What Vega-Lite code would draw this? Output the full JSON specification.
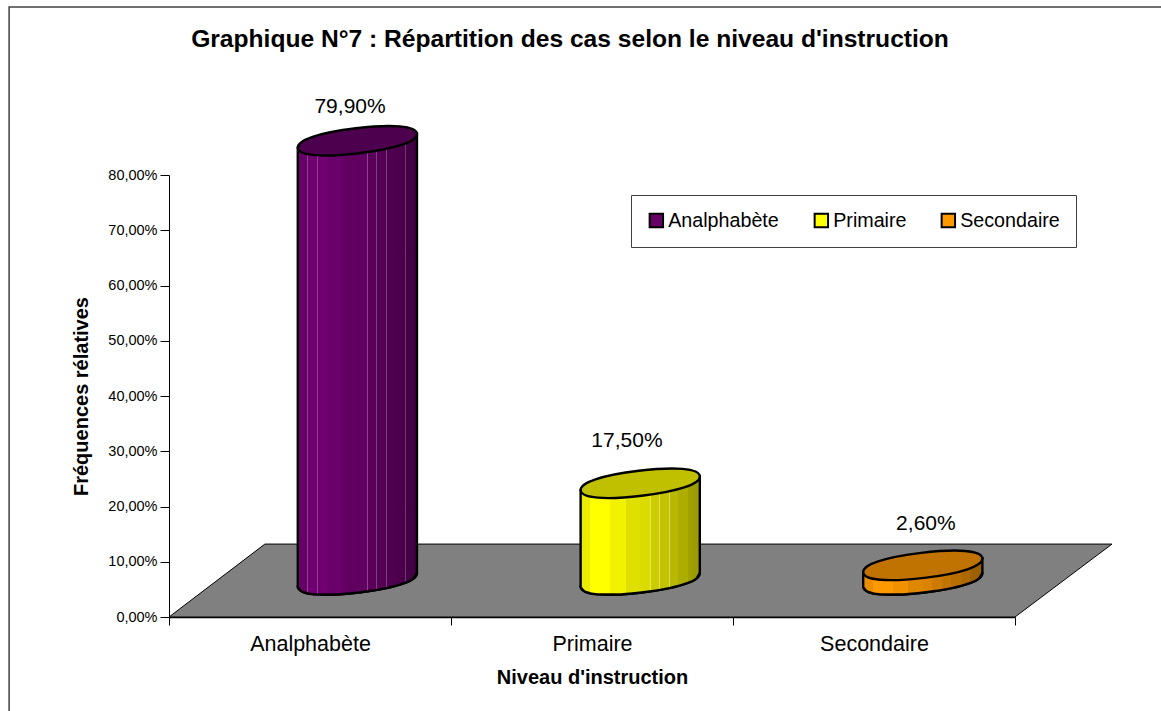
{"$schema":"https://vega.github.io/schema/vega-lite/v6.json","width":846,"height":442,"autosize":{"type":"none"},"padding":{"left":169,"top":175,"right":146,"bottom":94},"background":"white","title":{"text":"Graphique N°7 : Répartition des cas selon le niveau d'instruction","anchor":"middle","frame":"group","dx":-22,"offset":0,"dy":46,"fontSize":24.6,"fontWeight":"bold","font":"Liberation Sans","color":"black"},"config":{"font":"Liberation Sans","view":{"stroke":null},"axis":{"domainColor":"black","tickColor":"black","labelColor":"black","titleColor":"black","grid":false}},"datasets":{"cadre":[{"x":-0.567,"x2":3.7,"y":-20,"y2":110.4}],"sol":[{"x":0,"y":0,"y2":0},{"x":0.34,"y":0,"y2":13.2},{"x":3,"y":0,"y2":13.2},{"x":3.344,"y":13.2,"y2":13.2}],"bases":[{"niveau":"Analphabète","x":0.668,"y":6.7},{"niveau":"Primaire","x":1.671,"y":6.7},{"niveau":"Secondaire","x":2.673,"y":6.7}],"sommets":[{"niveau":"Analphabète","x":0.668,"y":86.2},{"niveau":"Primaire","x":1.671,"y":24.2},{"niveau":"Secondaire","x":2.673,"y":9.35}],"etiquettes":[{"niveau":"Analphabète","x":0.642,"y":92.3,"texte":"79,90%"},{"niveau":"Primaire","x":1.624,"y":31.85,"texte":"17,50%"},{"niveau":"Secondaire","x":2.684,"y":16.8,"texte":"2,60%"}],"corps":[{"niveau":"Analphabète","x":0.4567,"y":5.41,"y2":84.92},{"niveau":"Analphabète","x":0.4737,"y":4.55,"y2":85.02},{"niveau":"Analphabète","x":0.5173,"y":4.09,"y2":85.28},{"niveau":"Analphabète","x":0.5847,"y":4.06,"y2":85.69},{"niveau":"Analphabète","x":0.6733,"y":4.44,"y2":86.23},{"niveau":"Analphabète","x":0.7613,"y":5.13,"y2":86.77},{"niveau":"Analphabète","x":0.8265,"y":5.99,"y2":87.16},{"niveau":"Analphabète","x":0.8669,"y":6.95,"y2":87.41},{"niveau":"Analphabète","x":0.8793,"y":7.99,"y2":87.48},{"niveau":"Primaire","x":1.4597,"y":5.41,"y2":22.92},{"niveau":"Primaire","x":1.4767,"y":4.55,"y2":23.02},{"niveau":"Primaire","x":1.5203,"y":4.09,"y2":23.28},{"niveau":"Primaire","x":1.5877,"y":4.06,"y2":23.69},{"niveau":"Primaire","x":1.6763,"y":4.44,"y2":24.23},{"niveau":"Primaire","x":1.7643,"y":5.13,"y2":24.77},{"niveau":"Primaire","x":1.8295,"y":5.99,"y2":25.16},{"niveau":"Primaire","x":1.8699,"y":6.95,"y2":25.41},{"niveau":"Primaire","x":1.8823,"y":7.99,"y2":25.48},{"niveau":"Secondaire","x":2.4617,"y":5.41,"y2":8.07},{"niveau":"Secondaire","x":2.4787,"y":4.55,"y2":8.17},{"niveau":"Secondaire","x":2.5223,"y":4.09,"y2":8.43},{"niveau":"Secondaire","x":2.5897,"y":4.06,"y2":8.84},{"niveau":"Secondaire","x":2.6783,"y":4.44,"y2":9.38},{"niveau":"Secondaire","x":2.7663,"y":5.13,"y2":9.92},{"niveau":"Secondaire","x":2.8315,"y":5.99,"y2":10.31},{"niveau":"Secondaire","x":2.8719,"y":6.95,"y2":10.56},{"niveau":"Secondaire","x":2.8843,"y":7.99,"y2":10.63}]},"resolve":{"scale":{"x":"independent"}},"layer":[{"data":{"name":"bases"},"mark":{"type":"rule","opacity":0},"encoding":{"x":{"field":"niveau","type":"nominal","sort":null,"title":"Niveau d'instruction","scale":{"paddingInner":0,"paddingOuter":0},"axis":{"labelAngle":0,"labelFontSize":21.5,"labelPadding":8,"tickBand":"extent","tickSize":8,"titleFontSize":20,"titleFontWeight":"bold","titlePadding":13,"domainWidth":1.5}}}},{"encoding":{"x":{"field":"x","type":"quantitative","scale":{"domain":[0,3],"nice":false,"zero":false},"axis":null},"y":{"field":"y","type":"quantitative","title":"Fréquences rélatives","scale":{"domain":[0,80],"nice":false,"zero":false},"axis":{"values":[0,10,20,30,40,50,60,70,80],"labelExpr":"replace(format(datum.value,'.2f'),'.',',')+'%'","labelFontSize":14.5,"labelPadding":3,"tickSize":9,"titleFontSize":20,"titleFontWeight":"bold","titlePadding":16}}},"layer":[{"data":{"name":"cadre"},"mark":{"type":"rect","filled":false,"stroke":"#404040","strokeWidth":1.5},"encoding":{"x2":{"field":"x2"},"y2":{"field":"y2"}}},{"data":{"name":"sol"},"mark":{"type":"area","orient":"vertical","fill":"#808080","stroke":"black","strokeWidth":1},"encoding":{"y2":{"field":"y2"}}},{"data":{"name":"bases"},"mark":{"type":"point","filled":true,"shape":"M -0.993 0.119 C -1.008 -0.01 -0.641 -0.135 -0.025 -0.2085 C 0.591 -0.282 0.977 -0.248 0.993 -0.119 C 1.008 0.01 0.641 0.135 0.025 0.2085 C -0.591 0.282 -0.977 0.248 -0.993 0.119 Z","size":14400,"opacity":1,"stroke":"black","strokeWidth":2.4},"encoding":{"fill":{"field":"niveau","type":"nominal","sort":null,"scale":{"domain":["Analphabète","Primaire","Secondaire"],"range":["#660066","#FFFF00","#FF9900"]},"legend":{"title":null,"orient":"none","legendX":462,"legendY":20,"direction":"horizontal","columns":3,"symbolType":"square","symbolSize":180,"symbolStrokeColor":"black","symbolStrokeWidth":2,"symbolOpacity":1,"labelFontSize":19.7,"labelColor":"black","labelOffset":2,"columnPadding":31,"padding":15.5,"strokeColor":"#404040","fillColor":"white","labelLimit":300}}}},{"data":{"name":"corps"},"transform":[{"filter":"datum.niveau==='Analphabète'"}],"mark":{"type":"area","orient":"vertical","interpolate":"monotone","stroke":"black","strokeWidth":2.4,"fill":{"gradient":"linear","x1":0,"y1":0,"x2":1,"y2":0,"stops":[{"offset":0,"color":"#670067"},{"offset":0.08,"color":"#670067"},{"offset":0.08,"color":"#904090"},{"offset":0.088,"color":"#904090"},{"offset":0.088,"color":"#700070"},{"offset":0.16,"color":"#700070"},{"offset":0.16,"color":"#904090"},{"offset":0.168,"color":"#904090"},{"offset":0.168,"color":"#700070"},{"offset":0.25,"color":"#700070"},{"offset":0.25,"color":"#6A006A"},{"offset":0.38,"color":"#6A006A"},{"offset":0.38,"color":"#620062"},{"offset":0.5,"color":"#620062"},{"offset":0.5,"color":"#600060"},{"offset":0.58,"color":"#600060"},{"offset":0.58,"color":"#904090"},{"offset":0.588,"color":"#904090"},{"offset":0.588,"color":"#5A005A"},{"offset":0.66,"color":"#5A005A"},{"offset":0.66,"color":"#804080"},{"offset":0.668,"color":"#804080"},{"offset":0.668,"color":"#550055"},{"offset":0.74,"color":"#550055"},{"offset":0.74,"color":"#804080"},{"offset":0.748,"color":"#804080"},{"offset":0.748,"color":"#500050"},{"offset":0.82,"color":"#500050"},{"offset":0.82,"color":"#703870"},{"offset":0.828,"color":"#703870"},{"offset":0.828,"color":"#4C004C"},{"offset":0.9,"color":"#4C004C"},{"offset":0.9,"color":"#703870"},{"offset":0.908,"color":"#703870"},{"offset":0.908,"color":"#460046"},{"offset":1,"color":"#400040"}]}},"encoding":{"y2":{"field":"y2"}}},{"data":{"name":"sommets"},"transform":[{"filter":"datum.niveau==='Analphabète'"}],"mark":{"type":"point","filled":true,"opacity":1,"shape":"M -0.993 0.119 C -1.008 -0.01 -0.641 -0.135 -0.025 -0.2085 C 0.591 -0.282 0.977 -0.248 0.993 -0.119 C 1.008 0.01 0.641 0.135 0.025 0.2085 C -0.591 0.282 -0.977 0.248 -0.993 0.119 Z","size":14400,"fill":"#4D004D","stroke":"black","strokeWidth":2.4}},{"data":{"name":"corps"},"transform":[{"filter":"datum.niveau==='Primaire'"}],"mark":{"type":"area","orient":"vertical","interpolate":"monotone","stroke":"black","strokeWidth":2.4,"fill":{"gradient":"linear","x1":0,"y1":0,"x2":1,"y2":0,"stops":[{"offset":0,"color":"#EBEB00"},{"offset":0.08,"color":"#EBEB00"},{"offset":0.08,"color":"#FFFF00"},{"offset":0.25,"color":"#FFFF00"},{"offset":0.25,"color":"#F2F200"},{"offset":0.38,"color":"#F2F200"},{"offset":0.38,"color":"#E0E000"},{"offset":0.5,"color":"#E0E000"},{"offset":0.5,"color":"#DBDB00"},{"offset":0.58,"color":"#DBDB00"},{"offset":0.58,"color":"#E8E860"},{"offset":0.588,"color":"#E8E860"},{"offset":0.588,"color":"#CCCC00"},{"offset":0.66,"color":"#CCCC00"},{"offset":0.66,"color":"#E0E060"},{"offset":0.668,"color":"#E0E060"},{"offset":0.668,"color":"#C2C200"},{"offset":0.74,"color":"#C2C200"},{"offset":0.74,"color":"#D8D860"},{"offset":0.748,"color":"#D8D860"},{"offset":0.748,"color":"#B8B800"},{"offset":0.82,"color":"#B8B800"},{"offset":0.82,"color":"#ADAD00"},{"offset":0.9,"color":"#ADAD00"},{"offset":0.9,"color":"#A1A100"},{"offset":1,"color":"#999900"}]}},"encoding":{"y2":{"field":"y2"}}},{"data":{"name":"sommets"},"transform":[{"filter":"datum.niveau==='Primaire'"}],"mark":{"type":"point","filled":true,"opacity":1,"shape":"M -0.993 0.119 C -1.008 -0.01 -0.641 -0.135 -0.025 -0.2085 C 0.591 -0.282 0.977 -0.248 0.993 -0.119 C 1.008 0.01 0.641 0.135 0.025 0.2085 C -0.591 0.282 -0.977 0.248 -0.993 0.119 Z","size":14400,"fill":"#C0C000","stroke":"black","strokeWidth":2.4}},{"data":{"name":"corps"},"transform":[{"filter":"datum.niveau==='Secondaire'"}],"mark":{"type":"area","orient":"vertical","interpolate":"monotone","stroke":"black","strokeWidth":2.4,"fill":{"gradient":"linear","x1":0,"y1":0,"x2":1,"y2":0,"stops":[{"offset":0,"color":"#EB8D00"},{"offset":0.08,"color":"#EB8D00"},{"offset":0.08,"color":"#FF9900"},{"offset":0.25,"color":"#FF9900"},{"offset":0.25,"color":"#F29100"},{"offset":0.38,"color":"#F29100"},{"offset":0.38,"color":"#E08700"},{"offset":0.5,"color":"#E08700"},{"offset":0.5,"color":"#DB8300"},{"offset":0.58,"color":"#DB8300"},{"offset":0.58,"color":"#CC7A00"},{"offset":0.66,"color":"#CC7A00"},{"offset":0.66,"color":"#C27400"},{"offset":0.74,"color":"#C27400"},{"offset":0.74,"color":"#B86E00"},{"offset":0.82,"color":"#B86E00"},{"offset":0.82,"color":"#AD6800"},{"offset":0.9,"color":"#AD6800"},{"offset":0.9,"color":"#A16200"},{"offset":1,"color":"#996000"}]}},"encoding":{"y2":{"field":"y2"}}},{"data":{"name":"sommets"},"transform":[{"filter":"datum.niveau==='Secondaire'"}],"mark":{"type":"point","filled":true,"opacity":1,"shape":"M -0.993 0.119 C -1.008 -0.01 -0.641 -0.135 -0.025 -0.2085 C 0.591 -0.282 0.977 -0.248 0.993 -0.119 C 1.008 0.01 0.641 0.135 0.025 0.2085 C -0.591 0.282 -0.977 0.248 -0.993 0.119 Z","size":14400,"fill":"#C07300","stroke":"black","strokeWidth":2.4}},{"data":{"name":"etiquettes"},"mark":{"type":"text","fontSize":21,"color":"black","align":"center","baseline":"middle"},"encoding":{"text":{"field":"texte"}}}]}]}
